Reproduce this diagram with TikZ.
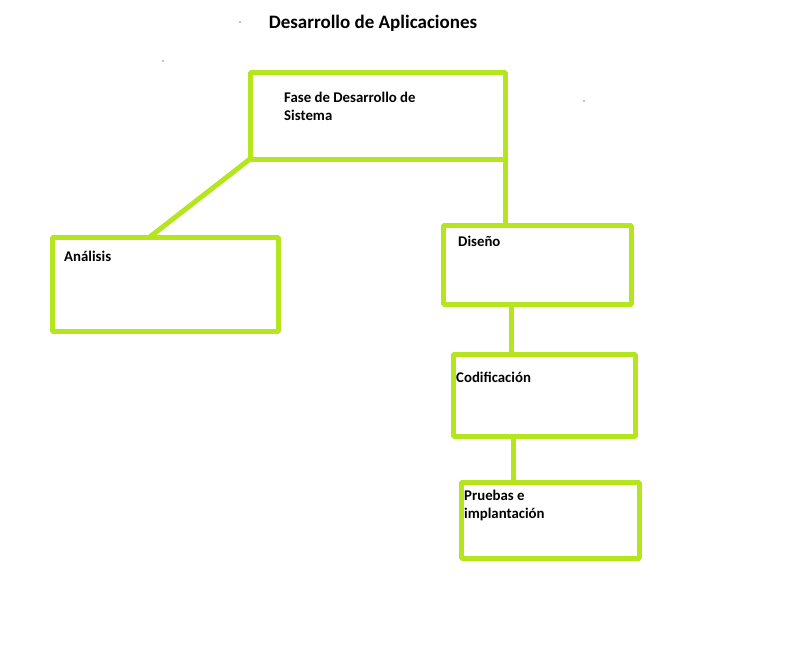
\documentclass[tikz,border=0pt]{standalone}
\usepackage{fontspec}
\setmainfont{Carlito}
\usetikzlibrary{positioning}
\definecolor{paintlime}{HTML}{B5E61D}
\tikzset{
  phasebox/.style={draw=paintlime,line width=5pt,rectangle,inner sep=0pt,outer sep=0pt},
  phaselabel/.style={anchor=west,align=left,inner sep=0pt,font=\fontsize{14.8pt}{18pt}\selectfont\bfseries},
  phaselink/.style={draw=paintlime,line width=5pt}
}
\begin{document}
\begin{tikzpicture}[x=1pt,y=-1pt,line join=bevel,]
\useasboundingbox (0,0) rectangle (810,669);
%%
\node (title) at (373,23) [font=\fontsize{19pt}{22pt}\selectfont\bfseries] {Desarrollo de Aplicaciones};
  \node (node_0) at (377.5,115.5) [phasebox,minimum width=255pt,minimum height=87pt] {};
  \node (node_1) at (165,284) [phasebox,minimum width=226pt,minimum height=94pt] {};
  \node (node_2) at (537,264.5) [phasebox,minimum width=188pt,minimum height=79pt] {};
  \node (node_3) at (544,395) [phasebox,minimum width=182pt,minimum height=82pt] {};
  \node (node_4) at (550,520) [phasebox,minimum width=178pt,minimum height=76pt] {};
  \node (label_0) at (284,106) [phaselabel] {Fase de Desarrollo de\\Sistema};
  \node (label_1) at (64,256) [phaselabel] {Análisis};
  \node (label_2) at (458,241) [phaselabel] {Diseño};
  \node (label_3) at (456,377) [phaselabel] {Codificación};
  \node (label_4) at (464,505) [phaselabel] {Pruebas e\\implantación};
  \draw [phaselink] (node_0.south west) -- (node_1.108);
  \draw [phaselink] (node_0.south east) -- (node_0.south east |- node_2.north);
  \draw [phaselink] (node_2.237) -- (node_2.237 |- node_3.north);
  \draw [phaselink] (node_3.233) -- (node_3.233 |- node_4.north);
  % specks
  \fill (240,22) circle (0.7pt) (163,61) circle (0.7pt) (584,101) circle (0.7pt);
%
\end{tikzpicture}
\end{document}
